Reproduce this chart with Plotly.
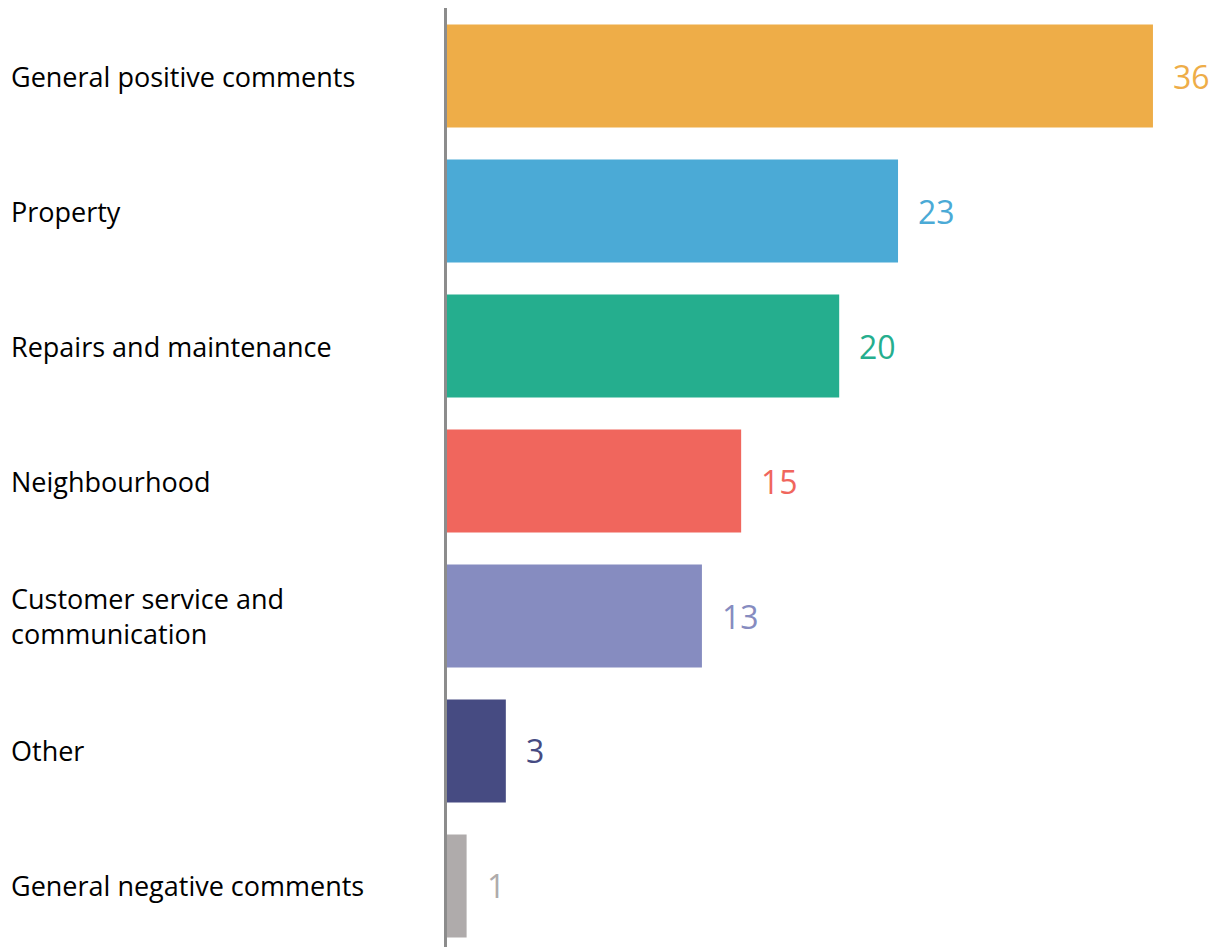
import plotly.graph_objects as go

# Comment themes and counts
categories = [
    "General positive comments",
    "Property",
    "Repairs and maintenance",
    "Neighbourhood",
    "Customer service and<br>communication",
    "Other",
    "General negative comments",
]
counts = [36, 23, 20, 15, 13, 3, 1]
colors = ["#EEAD48", "#4BAAD6", "#25AE8E", "#F0665D", "#868CC0", "#464B82", "#AFABAB"]

W, H = 1222, 947
ML, MR, MT, MB = 447, 0, 8, 0
plot_w = W - ML - MR

fig = go.Figure(
    go.Bar(
        x=counts,
        y=categories,
        orientation="h",
        marker=dict(color=colors, line=dict(width=0)),
        hoverinfo="x+y",
    )
)

annotations = []
# value labels to the right of each bar
for cat, val, col in zip(categories, counts, colors):
    annotations.append(dict(
        x=val, y=cat, xref="x", yref="y",
        text=str(val), showarrow=False,
        xanchor="left", yanchor="middle", xshift=18,
        font=dict(family="Open Sans, sans-serif", size=32, color=col),
    ))
# left-aligned category labels
for cat in categories:
    annotations.append(dict(
        x=(9 - ML) / plot_w, y=cat, xref="paper", yref="y",
        text=cat, showarrow=False, align="left",
        xanchor="left", yanchor="middle",
        font=dict(family="Open Sans, sans-serif", size=27, color="#000000"),
    ))

fig.update_layout(
    width=W, height=H,
    margin=dict(l=ML, r=MR, t=MT, b=MB, pad=0),
    paper_bgcolor="white", plot_bgcolor="white",
    showlegend=False,
    bargap=0.237,
    xaxis=dict(range=[0, plot_w / 19.61], visible=False, fixedrange=True),
    yaxis=dict(
        type="category", range=[6.452, -0.504],
        showticklabels=False, ticks="", showgrid=False, zeroline=False,
        showline=True, linecolor="#8C8C8C", linewidth=3, fixedrange=True,
    ),
    annotations=annotations,
)

fig.write_html("out.html")
